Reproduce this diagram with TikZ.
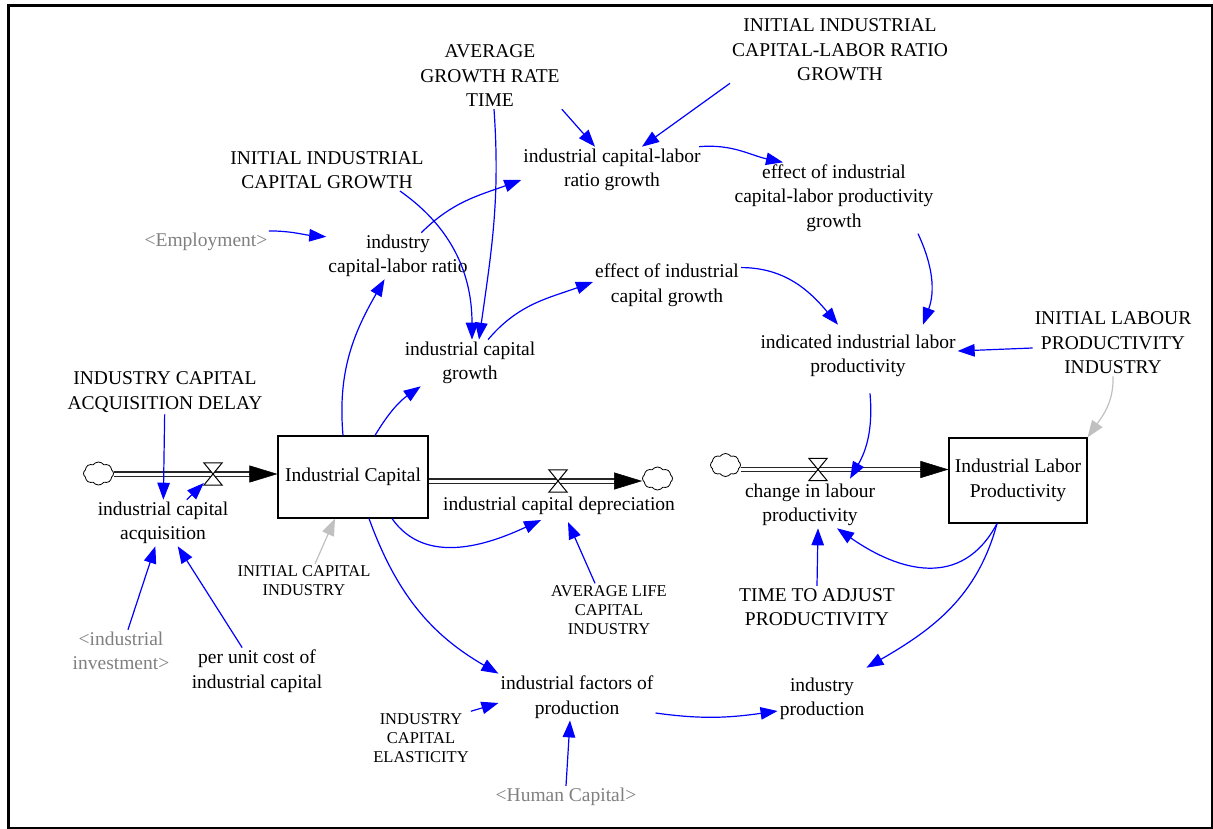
\documentclass[tikz,border=0pt]{standalone}
\usepackage{fontspec}
\setmainfont{Liberation Serif}
\usetikzlibrary{arrows.meta,shapes.symbols}

\definecolor{linkblue}{RGB}{0,0,255}
\definecolor{shadowgray}{RGB}{128,128,128}
\definecolor{initgray}{RGB}{192,192,192}

\tikzset{
  x=1pt, y=1pt,
  var/.style={align=center, inner sep=2pt, font=\fontsize{19.5}{24.5}\selectfont},
  smallvar/.style={align=center, inner sep=2pt, font=\fontsize{16.5}{19}\selectfont},
  shadowvar/.style={var, text=shadowgray},
  stock/.style={draw, line width=1.1pt, inner sep=2pt, align=center,
    font=\fontsize{19.5}{24.5}\selectfont},
  link/.style={draw=linkblue, line width=1.2pt, -{Triangle[length=17pt,width=12.5pt]}},
  initlink/.style={draw=initgray, line width=1.2pt, -{Triangle[length=17pt,width=12.5pt]}},
  pipe/.style={draw=black!85, line width=1.3pt, double=white, double distance=3pt},
  pipehead/.style={draw=black, line width=0.5pt, -{Triangle[length=28pt,width=17pt]}},
  cloudy/.style={cloud, cloud puffs=8, cloud puff arc=110, aspect=1.3, draw,
    line width=0.8pt, fill=white, inner sep=0pt, minimum width=30pt, minimum height=23pt},
  valvebox/.style={inner sep=0pt, minimum width=18pt, minimum height=22pt},
  valveline/.style={draw=black, line width=1pt, fill=white}
}

\begin{document}
\begin{tikzpicture}
\useasboundingbox (0,0) rectangle (1213,-829);
\draw[line width=3pt] (8.5,-5.5) rectangle (1212,-828);

% auxiliaries and constants
\node[var] (agrt) at (490,-76) {AVERAGE\\GROWTH RATE\\TIME};
\node[var] (iiclrg) at (840,-50) {INITIAL INDUSTRIAL\\CAPITAL-LABOR RATIO\\GROWTH};
\node[var] (iicg) at (327,-170) {INITIAL INDUSTRIAL\\CAPITAL GROWTH};
\node[var] (iclrg) at (612,-170) {industrial capital-labor\\ratio growth};
\node[var] (eiclpg) at (834,-198) {effect of industrial\\capital-labor productivity\\growth};
\node[shadowvar] (emp) at (206,-242) {<Employment>};
\node[var] (iclr) at (398,-256) {industry\\capital-labor ratio};
\node[var] (eicg) at (667,-285) {effect of industrial\\capital growth};
\node[var] (icg) at (470,-363) {industrial capital\\growth};
\node[var] (iilp) at (858,-356) {indicated industrial labor\\productivity};
\node[var] (ilpi) at (1113,-343) {INITIAL LABOUR\\PRODUCTIVITY\\INDUSTRY};
\node[var] (icad) at (165,-392) {INDUSTRY CAPITAL\\ACQUISITION DELAY};
\node[var] (ica) at (163,-523) {industrial capital\\acquisition};
\node[var] (icd) at (559,-506) {industrial capital depreciation};
\node[var] (clp) at (810,-505) {change in labour\\productivity};
\node[smallvar] (ici) at (304,-581) {INITIAL CAPITAL\\INDUSTRY};
\node[smallvar] (alci) at (609,-610) {AVERAGE LIFE\\CAPITAL\\INDUSTRY};
\node[var] (tap) at (817,-607) {TIME TO ADJUST\\PRODUCTIVITY};
\node[shadowvar] (ii) at (121,-651) {<industrial\\investment>};
\node[var] (pucic) at (257,-671) {per unit cost of\\industrial capital};
\node[var] (ifp) at (577,-697) {industrial factors of\\production};
\node[var] (ip) at (822,-699) {industry\\production};
\node[smallvar] (ice) at (421,-738) {INDUSTRY\\CAPITAL\\ELASTICITY};
\node[shadowvar] (hc) at (566,-797) {<Human Capital>};

% stocks
\node[stock, minimum width=150pt, minimum height=82pt] (IC) at (353,-477) {Industrial Capital};
\node[stock, minimum width=138pt, minimum height=85pt] (ILP) at (1018,-480.5) {Industrial Labor\\Productivity};

% sources, sinks and valves
\node[cloudy] (c1) at (98.5,-473.5) {};
\node[cloudy] (c2) at (657.5,-478.5) {};
\node[cloudy] (c3) at (725.5,-465) {};
\node[valvebox] (v1) at (213,-474) {};
\node[valvebox] (v2) at (558,-481) {};
\node[valvebox] (v3) at (818,-469.5) {};

\coordinate (p1end) at (IC.west |- v1);
\coordinate (p2end) at (c2.west |- v2);
\coordinate (p3end) at (ILP.west |- v3);

% flow pipes
\draw[pipe] (c1.east |- v1) -- ([xshift=-20pt]p1end);
\draw[pipehead] ([xshift=-28pt]p1end) -- (p1end);
\draw[pipe] (IC.east |- v2) -- ([xshift=-20pt]p2end);
\draw[pipehead] ([xshift=-28pt]p2end) -- (p2end);
\draw[pipe] (c3.east |- v3) -- ([xshift=-20pt]p3end);
\draw[pipehead] ([xshift=-28pt]p3end) -- (p3end);

\foreach \v in {v1,v2,v3}
  \draw[valveline] (\v.north west) -- (\v.north east) -- (\v.south west) -- (\v.south east) -- cycle;

% connectors
\draw[link] (icad) -- (ica);
\draw[link] (ica) -- (v1);
\draw[link] (ii) -- (ica);
\draw[link] (pucic) -- (ica);
\draw[link] ([xshift=-10pt]IC.north) to[out=95,in=240] (iclr);
\draw[link] ([xshift=22pt]IC.north) to[bend left=12] (icg);
\draw[link] (emp.10) to[out=0,in=175] (iclr.165);
\draw[link] (iclr) to[out=45,in=200] ([yshift=-10pt]iclrg.west);
\draw[link] ([xshift=73pt]iicg.south) to[out=-35,in=90] ([xshift=2pt]icg.north);
\draw[link] ([xshift=4pt]agrt.south) to[out=-86,in=82] ([xshift=9pt]icg.north);
\draw[link] (agrt.south east) -- ([xshift=-17pt]iclrg.north);
\draw[link] (iiclrg.south west) -- ([xshift=30pt]iclrg.north);
\draw[link] (iclrg.15) to[out=5,in=168] ([xshift=-51pt]eiclpg.north);
\draw[link] ([xshift=84pt]eiclpg.south) to[out=-65,in=70] ([xshift=65pt,yshift=8pt]iilp.north);
\draw[link] ([xshift=18pt]icg.north) to[out=50,in=200] ([yshift=3pt]eicg.west);
\draw[link] ([yshift=-6pt]eicg.north east) to[out=0,in=130] ([xshift=-20pt,yshift=8pt]iilp.north);
\draw[link] ([yshift=-5pt]ilpi.west) -- ([yshift=5pt]iilp.east);
\draw[initlink] (ilpi.south) to[out=-88,in=55] (ILP.north east);
\draw[link] ([xshift=12pt,yshift=-14pt]iilp.south) to[out=-85,in=60] ([xshift=40pt,yshift=3pt]clp.north);
\draw[link] (tap.north) -- ([xshift=8pt]clp.south);
\draw[link] ([xshift=-21pt]ILP.south) to[out=-118,in=-35,looseness=1.2] ([xshift=27pt]clp.south);
\draw[link] ([xshift=-21pt]ILP.south) to[out=-105,in=30] ([yshift=8pt]ip.north east);
\draw[link] ([xshift=39pt]IC.south) to[out=-55,in=205] ([xshift=-18pt,yshift=-3pt]icd.south);
\draw[link] ([xshift=-14pt]alci.north) -- ([xshift=9pt,yshift=-5pt]icd.south);
\draw[initlink] ([xshift=11pt]ici.north) -- ([xshift=-18pt]IC.south);
\draw[link] ([xshift=16pt]IC.south) to[out=-70,in=150] (ifp.north west);
\draw[link] (ice.north east) -- ([yshift=-6pt]ifp.west);
\draw[link] (hc.north) -- ([xshift=-7pt]ifp.south);
\draw[link] ([yshift=-16pt]ifp.east) to[out=-8,in=188] ([yshift=-12pt]ip.west);
\end{tikzpicture}
\end{document}
